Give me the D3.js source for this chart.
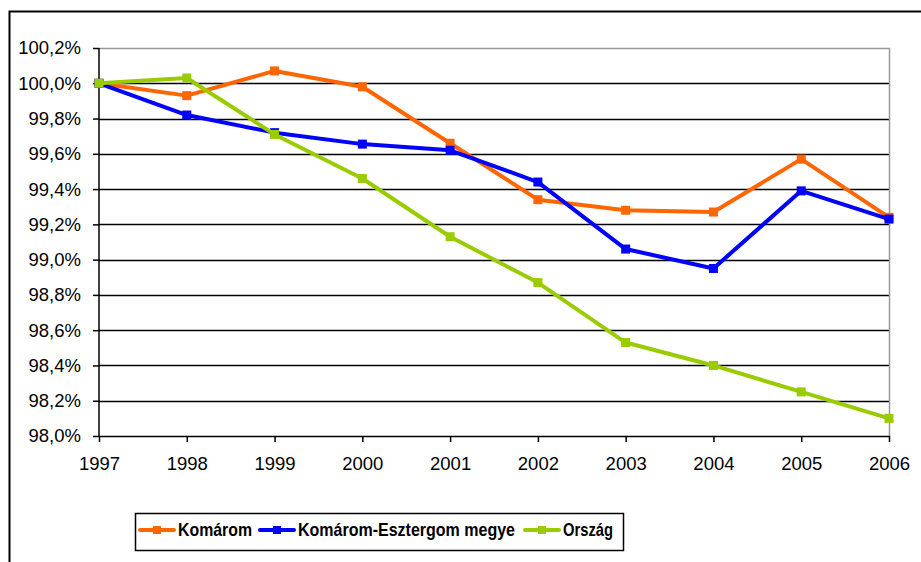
<!DOCTYPE html>
<html>
<head>
<meta charset="utf-8">
<script src="https://cdn.jsdelivr.net/npm/d3@7"></script>
<style>
  body { margin: 0; background: #fff; }
  text { font-family: "Liberation Sans", Arial, sans-serif; }
</style>
</head>
<body>
<script>
var years = [1997, 1998, 1999, 2000, 2001, 2002, 2003, 2004, 2005, 2006];
var komarom = [100.0, 99.93, 100.07, 99.98, 99.66, 99.34, 99.28, 99.27, 99.57, 99.24];
var megye = [100.0, 99.82, 99.72, 99.655, 99.62, 99.44, 99.06, 98.95, 99.39, 99.23];
var orszag = [100.0, 100.03, 99.71, 99.46, 99.13, 98.87, 98.53, 98.40, 98.25, 98.10];
var yTicks = [98.0, 98.2, 98.4, 98.6, 98.8, 99.0, 99.2, 99.4, 99.6, 99.8, 100.0, 100.2];
var seriesNames = ["Komárom", "Komárom-Esztergom megye", "Ország"];
var seriesColors = ["#ff6600", "#0000ff", "#99cc00"];

var width = 921, height = 562;
var margin = { left: 99, right: 32, top: 48, bottom: 126 };

var svg = d3.select("body").append("svg")
    .attr("width", width)
    .attr("height", height);

// outer chart frame (runs off the right and bottom edges)
svg.append("rect")
    .attr("x", 9.5).attr("y", 11.5)
    .attr("width", 940).attr("height", 600)
    .attr("fill", "none").attr("stroke", "#000").attr("stroke-width", 2);

var x = d3.scalePoint()
    .domain(years)
    .range([margin.left, width - margin.right]);

var y = d3.scaleLinear()
    .domain([98.0, 100.2])
    .range([height - margin.bottom, margin.top]);

var fmt = function (d) { return d3.format(".1f")(d).replace(".", ",") + "%"; };

// gridlines
svg.append("g")
    .selectAll("line")
    .data(yTicks.slice(1, -1))
    .enter().append("line")
    .attr("x1", margin.left).attr("x2", width - margin.right)
    .attr("y1", function (d) { return Math.round(y(d)) + 0.5; })
    .attr("y2", function (d) { return Math.round(y(d)) + 0.5; })
    .attr("stroke", "#000").attr("stroke-width", 1.5);

// plot border top / right (gray)
svg.append("path")
    .attr("d", "M" + margin.left + "," + (y(100.2) + 0.5) + "H" + (width - margin.right + 0.5) + "V" + y(98.0))
    .attr("fill", "none").attr("stroke", "#999").attr("stroke-width", 1.5);

var yAxis = svg.append("g")
    .attr("transform", "translate(" + margin.left + ",0)")
    .call(d3.axisLeft(y).tickValues(yTicks).tickFormat(fmt).tickSize(6).tickPadding(12));

var xAxis = svg.append("g")
    .attr("transform", "translate(0," + y(98.0) + ")")
    .call(d3.axisBottom(x).tickSize(6).tickPadding(15).tickSizeOuter(0));

[yAxis, xAxis].forEach(function (ax) {
    ax.select(".domain").attr("stroke", "#000").attr("stroke-width", 1.5);
    ax.selectAll(".tick line").attr("stroke", "#000").attr("stroke-width", 1.5);
    ax.selectAll("text")
        .attr("fill", "#000")
        .style("font-size", "18.5px")
        .style("font-family", "'Liberation Sans', Arial, sans-serif");
});
yAxis.select(".domain").attr("d", "M0," + y(100.2) + "V" + y(98.0));

var allSeries = [komarom, megye, orszag];
var line = d3.line()
    .x(function (d, i) { return x(years[i]); })
    .y(function (d) { return y(d); });

allSeries.forEach(function (vals, s) {
    var g = svg.append("g");
    g.append("path")
        .datum(vals)
        .attr("d", line)
        .attr("fill", "none")
        .attr("stroke", seriesColors[s])
        .attr("stroke-width", 4)
        .attr("stroke-linejoin", "round");
    g.selectAll("rect")
        .data(vals)
        .enter().append("rect")
        .attr("x", function (d, i) { return x(years[i]) - 4.5; })
        .attr("y", function (d) { return y(d) - 4.5; })
        .attr("width", 9).attr("height", 9)
        .attr("fill", seriesColors[s]);
});

// legend
var legend = svg.append("g");
legend.append("rect")
    .attr("x", 135.5).attr("y", 513.5)
    .attr("width", 488).attr("height", 37)
    .attr("fill", "#fff").attr("stroke", "#000").attr("stroke-width", 1.5);

var legendX = [140, 260, 525];
var legendTextW = [74, 217, 50];
seriesNames.forEach(function (name, s) {
    var lg = legend.append("g").attr("transform", "translate(" + legendX[s] + ",530)");
    lg.append("line")
        .attr("x1", 0).attr("x2", 34)
        .attr("stroke", seriesColors[s]).attr("stroke-width", 4)
        .attr("stroke-linecap", "round");
    lg.append("rect")
        .attr("x", 13).attr("y", -4).attr("width", 8).attr("height", 8)
        .attr("fill", seriesColors[s]);
    lg.append("text")
        .attr("x", 38).attr("y", 6)
        .attr("textLength", legendTextW[s])
        .attr("lengthAdjust", "spacingAndGlyphs")
        .style("font-size", "19px").style("font-weight", "bold")
        .text(name);
});
</script>
</body>
</html>
